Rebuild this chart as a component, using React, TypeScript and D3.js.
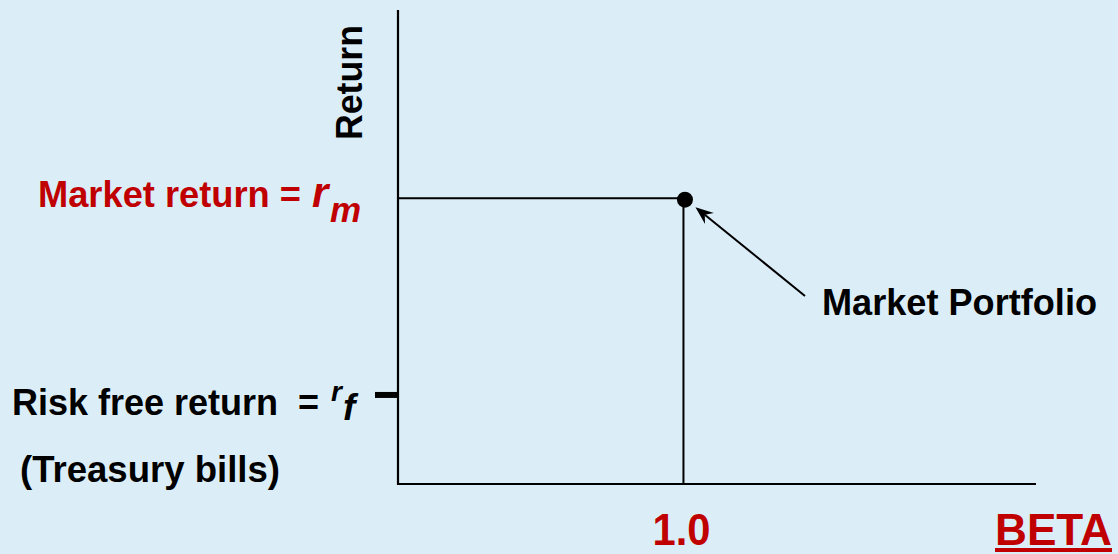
import React from "react";
import * as d3 from "d3";

// ---- data ----
const betaDomain = [0, 2.235];
const returnDomain = [0, 16.5];
const marketBeta = 1.0;
const marketReturn = 9.95;
const riskFreeReturn = 3.1;
const xTickLabels = ["1.0"];
const xAxisLabel = "BETA";
const yAxisLabel = "Return";
const marketLabel = "Market return = ";
const riskFreeLabel = "Risk free return  =";
const riskFreeNote = "(Treasury bills)";
const portfolioLabel = "Market Portfolio";

const W = 1118;
const H = 554;
const RED = "#c00000";
const BG = "#dbeef8";
const FONT = "'Liberation Sans', Arial, Helvetica, sans-serif";

export default function App() {
  const x = d3.scaleLinear().domain(betaDomain).range([398, 1036]);
  const y = d3.scaleLinear().domain(returnDomain).range([484, 10]);

  const mx = x(marketBeta);
  const my = y(marketReturn);
  const rfY = y(riskFreeReturn);

  const axisPath = d3.path();
  axisPath.moveTo(x(0), y(returnDomain[1]));
  axisPath.lineTo(x(0), y(0) + 1);
  axisPath.moveTo(x(0) - 1, y(0));
  axisPath.lineTo(x(betaDomain[1]), y(0));

  const guide = d3.line()([
    [x(0), my],
    [mx, my],
    [mx, y(0)],
  ]);

  // arrow from label toward the market portfolio point
  const tail: [number, number] = [805, 296];
  const tip: [number, number] = [mx + 12, my + 9];
  const dx = tail[0] - tip[0];
  const dy = tail[1] - tip[1];
  const len = Math.hypot(dx, dy);
  const ux = dx / len;
  const uy = dy / len;
  const px = -uy;
  const py = ux;
  const head = [
    [tip[0], tip[1]],
    [tip[0] + 18 * ux + 7 * px, tip[1] + 18 * uy + 7 * py],
    [tip[0] + 12 * ux, tip[1] + 12 * uy],
    [tip[0] + 18 * ux - 7 * px, tip[1] + 18 * uy - 7 * py],
  ];

  return (
    <div style={{ position: "fixed", left: 0, top: 0, width: W, height: H }}>
      <svg width={W} height={H} style={{ display: "block", fontFamily: FONT, fontWeight: "bold" }}>
        <rect x={0} y={0} width={W} height={H} fill={BG} />

        {/* axes */}
        <path d={axisPath.toString()} stroke="#000" strokeWidth={2.2} fill="none" />
        {/* guide lines */}
        <path d={guide || ""} stroke="#000" strokeWidth={2} fill="none" />
        {/* risk free tick */}
        <line x1={375} x2={x(0)} y1={rfY} y2={rfY} stroke="#000" strokeWidth={6} />

        {/* market point */}
        <circle cx={mx + 1.5} cy={my + 1.5} r={8} fill="#000" />

        {/* arrow */}
        <line x1={tail[0]} y1={tail[1]} x2={tip[0] + 12 * ux} y2={tip[1] + 12 * uy} stroke="#000" strokeWidth={2} />
        <polygon points={head.map((p) => p.join(",")).join(" ")} fill="#000" />

        {/* y label */}
        <text transform="translate(362,140) rotate(-90)" fontSize={36} fill="#000" textLength={115} lengthAdjust="spacingAndGlyphs">
          {yAxisLabel}
        </text>

        {/* market return label */}
        <text x={38} y={207} fontSize={36} fill={RED} textLength={263} lengthAdjust="spacingAndGlyphs">
          {marketLabel}
        </text>
        <text x={312} y={207} fontSize={42} fill={RED} fontStyle="italic">r</text>
        <text x={330} y={222} fontSize={35} fill={RED} fontStyle="italic">m</text>

        {/* risk free label */}
        <text x={12} y={415} fontSize={36} fill="#000" style={{ whiteSpace: "pre" }}>
          {riskFreeLabel}
        </text>
        <text x={331} y={401} fontSize={28} fill="#000" fontStyle="italic">r</text>
        <text x={343} y={420} fontSize={37} fill="#000" fontStyle="italic">f</text>

        <text x={20} y={482} fontSize={36} fill="#000" textLength={260} lengthAdjust="spacingAndGlyphs">
          {riskFreeNote}
        </text>

        {/* market portfolio label */}
        <text x={822} y={315} fontSize={36} fill="#000" textLength={275} lengthAdjust="spacingAndGlyphs">
          {portfolioLabel}
        </text>

        {/* x tick label */}
        {xTickLabels.map((t) => (
          <text key={t} x={x(+t) - 2} y={545} fontSize={45} fill={RED} textAnchor="middle" textLength={58} lengthAdjust="spacingAndGlyphs">
            {t}
          </text>
        ))}

        {/* x axis label */}
        <text x={995} y={545} fontSize={45} fill={RED} textLength={117} lengthAdjust="spacingAndGlyphs">
          {xAxisLabel}
        </text>
        <line x1={995} x2={1112} y1={550} y2={550} stroke={RED} strokeWidth={4} />
      </svg>
    </div>
  );
}
